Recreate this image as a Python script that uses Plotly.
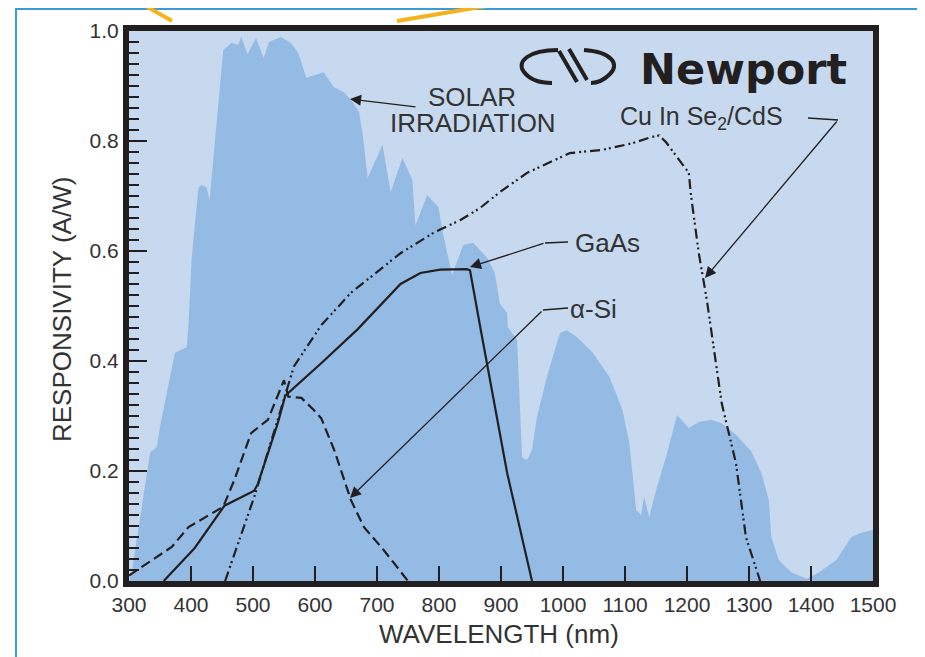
import plotly.graph_objects as go

# ---------------- data ----------------
solar_nm = [300, 305, 334, 345, 350, 374, 393, 396, 401, 409, 412, 417, 425, 430, 452, 465, 476, 481,
            491, 505, 517, 526, 545, 561, 573, 586, 614, 630, 646, 658, 671, 677, 685, 709, 722, 741,
            757, 762, 781, 799, 807, 821, 839, 855, 878, 890, 898, 910, 911, 926, 930, 934, 942, 950,
            958, 974, 995, 1006, 1022, 1048, 1075, 1096, 1107, 1118, 1126, 1131, 1139, 1150, 1166,
            1184, 1203, 1219, 1239, 1256, 1280, 1304, 1320, 1332, 1336, 1348, 1368, 1393, 1412, 1441,
            1465, 1479, 1500]
solar_irr = [0.0, 0.02, 0.233, 0.244, 0.28, 0.415, 0.425, 0.465, 0.587, 0.671, 0.715, 0.72, 0.716,
             0.693, 0.965, 0.978, 0.975, 0.989, 0.958, 0.987, 0.951, 0.98, 0.989, 0.978, 0.96, 0.915,
             0.925, 0.898, 0.889, 0.875, 0.853, 0.811, 0.733, 0.793, 0.707, 0.769, 0.729, 0.647, 0.702,
             0.68, 0.629, 0.556, 0.611, 0.615, 0.587, 0.56, 0.505, 0.487, 0.462, 0.438, 0.335, 0.225,
             0.22, 0.238, 0.298, 0.371, 0.451, 0.456, 0.444, 0.415, 0.371, 0.311, 0.251, 0.129, 0.12,
             0.153, 0.116, 0.165, 0.225, 0.302, 0.278, 0.289, 0.293, 0.287, 0.265, 0.235, 0.196, 0.147,
             0.08, 0.038, 0.016, 0.004, 0.015, 0.038, 0.08, 0.087, 0.093]

gaas_nm = [356, 406, 454, 502, 508, 524, 540, 552, 610, 669, 738, 770, 802, 845, 850, 866, 910, 950]
gaas_resp = [0.0, 0.06, 0.137, 0.164, 0.177, 0.233, 0.287, 0.337, 0.396, 0.458, 0.54, 0.56, 0.566,
             0.567, 0.565, 0.465, 0.196, 0.0]

asi_nm = [300, 369, 396, 422, 452, 470, 497, 524, 550, 557, 578, 598, 610, 631, 658, 679, 711, 750]
asi_resp = [0.01, 0.062, 0.098, 0.115, 0.135, 0.184, 0.269, 0.293, 0.365, 0.335, 0.333, 0.311, 0.296,
            0.238, 0.147, 0.098, 0.056, 0.0]

cis_nm = [455, 502, 566, 610, 658, 685, 738, 791, 834, 866, 898, 942, 1011, 1064, 1112, 1142, 1155,
          1166, 1192, 1203, 1206, 1219, 1232, 1239, 1256, 1279, 1295, 1318]
cis_resp = [0.0, 0.153, 0.39, 0.465, 0.524, 0.548, 0.596, 0.633, 0.656, 0.678, 0.707, 0.742, 0.778,
            0.784, 0.796, 0.807, 0.81, 0.798, 0.76, 0.742, 0.705, 0.596, 0.511, 0.456, 0.323, 0.214,
            0.08, 0.0]

x_ticks = list(range(300, 1501, 100))
y_ticks = [0.0, 0.2, 0.4, 0.6, 0.8, 1.0]

# ---------------- styling helpers (screen pixel -> coordinates for decorations) ----------------
L, T, R, B = 129, 31, 873, 581      # plot area on screen
W, H = 925, 657                     # window
PAGE = 8                            # default body margin of the html page


def dx(px):
    return 300 + (px - L) / (R - L) * 1200


def dy(py):
    return (B - py) / (B - T)


def ppx(px):
    return (px - L) / (R - L)


def ppy(py):
    return (B - py) / (B - T)


INK = "#231f20"
TXT = "#333333"
FONT = "Liberation Sans, Arial, sans-serif"

fig = go.Figure()

fig.add_trace(go.Scatter(x=solar_nm, y=solar_irr, mode="lines", fill="tozeroy",
                         fillcolor="#94bbe4", line=dict(width=0, color="#94bbe4"),
                         hoverinfo="skip", showlegend=False))
fig.add_trace(go.Scatter(x=cis_nm, y=cis_resp, mode="lines",
                         line=dict(color=INK, width=2.2, dash="10px,4px,2px,3px,2px,4px"),
                         showlegend=False))
fig.add_trace(go.Scatter(x=asi_nm, y=asi_resp, mode="lines",
                         line=dict(color=INK, width=2.2, dash="10px,5px"), showlegend=False))
fig.add_trace(go.Scatter(x=gaas_nm, y=gaas_resp, mode="lines",
                         line=dict(color=INK, width=2.2), showlegend=False))

shapes = []
# outer blue frame and orange decorative strokes
shapes.append(dict(type="rect", xref="paper", yref="paper", x0=ppx(16), x1=ppx(960),
                   y0=ppy(700), y1=ppy(9), line=dict(color="#3d9ad8", width=2), layer="below"))
shapes.append(dict(type="line", xref="paper", yref="paper", x0=ppx(130), y0=ppy(-3),
                   x1=ppx(172), y1=ppy(21), line=dict(color="#f5b21c", width=4)))
shapes.append(dict(type="line", xref="paper", yref="paper", x0=ppx(397), y0=ppy(21),
                   x1=ppx(540), y1=ppy(-3), line=dict(color="#f5b21c", width=4)))


def seg(p0, p1, w=1.3):
    return dict(type="line", xref="x", yref="y", x0=dx(p0[0]), y0=dy(p0[1]),
                x1=dx(p1[0]), y1=dy(p1[1]), line=dict(color=INK, width=w))


# leader stubs next to labels
shapes.append(seg((568, 242), (545, 243)))
shapes.append(seg((568, 308), (543, 310)))
shapes.append(seg((808, 118), (838, 120)))


def path(points_cmd):
    out = []
    for item in points_cmd:
        if isinstance(item, str):
            out.append(item)
        else:
            out.append(f"{dx(item[0]):.3f},{dy(item[1]):.4f}")
    return " ".join(out)


# Newport logo symbol
logo_line = dict(color=INK, width=4)
shapes.append(dict(type="path", xref="x", yref="y", line=logo_line,
                   path=path(["M", (558, 50), "C", (528, 50), (516, 62), (524, 72),
                              "C", (530, 80), (540, 83), (552, 83)])))
shapes.append(dict(type="path", xref="x", yref="y", line=logo_line,
                   path=path(["M", (584, 50), "C", (612, 52), (620, 64), (610, 74),
                              "C", (604, 80), (597, 83), (591, 83)])))
shapes.append(dict(type="path", xref="x", yref="y", line=logo_line,
                   path=path(["M", (559, 51), "L", (577, 82)])))
shapes.append(dict(type="path", xref="x", yref="y", line=logo_line,
                   path=path(["M", (569, 49), "L", (587, 80)])))

ann = []


def label(text, px, py, size=26, family=FONT, color=TXT, anchor="left"):
    ann.append(dict(text=text, x=dx(px), y=dy(py), xref="x", yref="y", showarrow=False,
                    xanchor=anchor, yanchor="middle",
                    font=dict(family=family, size=size, color=color)))


def arrow(tail, head):
    ann.append(dict(text="", x=dx(head[0]), y=dy(head[1]), ax=dx(tail[0]), ay=dy(tail[1]),
                    xref="x", yref="y", axref="x", ayref="y", showarrow=True,
                    arrowhead=2, arrowsize=1.7, arrowwidth=1.3, arrowcolor=INK,
                    standoff=0, startstandoff=0))


label("SOLAR", 426, 97)
label("IRRADIATION", 388, 123)
arrow((417, 107), (350, 99))
label("GaAs", 573, 243)
arrow((545, 243), (470, 267))
label("\u03b1-Si", 568, 309)
arrow((543, 310), (350, 498))
label("Cu In Se<sub>2</sub>/CdS", 618, 118, size=25)
arrow((838, 120), (705, 278))
label("<b>Newport</b>", 638, 69, size=43, family="DejaVu Sans, Verdana, sans-serif",
      color=INK)

# axis titles
ann.append(dict(text="WAVELENGTH (nm)", x=ppx(499), y=ppy(634), xref="paper", yref="paper",
                showarrow=False, xanchor="center", yanchor="middle",
                font=dict(family=FONT, size=26, color=TXT)))
ann.append(dict(text="RESPONSIVITY (A/W)", x=ppx(62), y=ppy(310), xref="paper", yref="paper",
                showarrow=False, xanchor="center", yanchor="middle", textangle=-90,
                font=dict(family=FONT, size=26, color=TXT)))

fig.update_layout(
    width=W - PAGE, height=H - PAGE,
    margin=dict(l=L - PAGE, r=W - R, t=T - PAGE, b=H - B, autoexpand=False),
    paper_bgcolor="white", plot_bgcolor="#c6d9ef",
    shapes=shapes, annotations=ann, showlegend=False,
    xaxis=dict(range=[300, 1500], tickvals=x_ticks, ticktext=[str(v) for v in x_ticks],
               ticks="inside", ticklen=15, tickwidth=2, tickcolor=INK,
               showline=True, linewidth=6, linecolor=INK, mirror=True,
               showgrid=False, zeroline=False, automargin=False,
               tickfont=dict(family=FONT, size=21, color=TXT)),
    yaxis=dict(range=[0, 1], tickvals=y_ticks, tickformat=".1f",
               ticks="inside", ticklen=18, tickwidth=2, tickcolor=INK,
               minor=dict(dtick=0.02, tick0=0, ticks="inside", ticklen=10, tickwidth=2,
                          tickcolor=INK, showgrid=False),
               showline=True, linewidth=6, linecolor=INK, mirror=True,
               showgrid=False, zeroline=False, automargin=False,
               tickfont=dict(family=FONT, size=21, color=TXT)),
)

fig.write_html("out.html")
